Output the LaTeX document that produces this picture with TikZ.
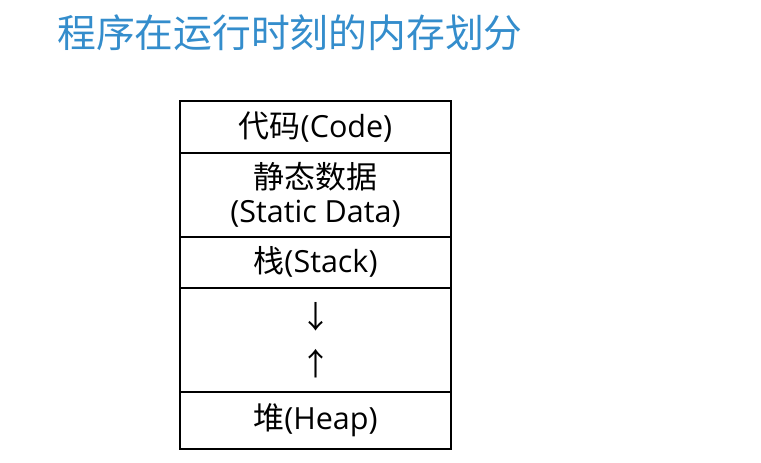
\documentclass[tikz,border=0pt]{standalone}
\usepackage{fontspec}
\setmainfont{Open Sans}
\newfontfamily\cjk{Noto Sans CJK SC}
\newcommand\zh[1]{{\cjk\fontsize{31}{34}\selectfont #1}}
\definecolor{titleblue}{RGB}{52,141,204}
\begin{document}
\begin{tikzpicture}[x=1pt,y=-1pt,
  seg/.style={draw=black,line width=1.6pt,minimum width=271pt,inner sep=0pt,
    anchor=north,align=center,font=\fontsize{30.5}{34}\selectfont},
  ]
\useasboundingbox (0,0) rectangle (761,463);
\node[anchor=west,text=titleblue,font=\cjk\fontsize{38.8}{44}\selectfont,inner sep=0pt]
  (title) at (57,33) {程序在运行时刻的内存划分};
\node[seg,minimum height=52pt] (code) at (315.5,100) {\zh{代码}(Code)};
\node[seg,minimum height=84pt] (static) at (315.5,152) {\zh{静态数据}\\(Static Data)};
\node[seg,minimum height=51pt] (stack) at (315.5,236) {\zh{栈}(Stack)};
\node[seg,minimum height=104pt,font=\cjk\fontsize{31}{47}\selectfont] (gap) at (315.5,287) {↓\\↑};
\node[seg,minimum height=57pt] (heap) at (315.5,391) {\zh{堆}(Heap)};
\end{tikzpicture}
\end{document}
